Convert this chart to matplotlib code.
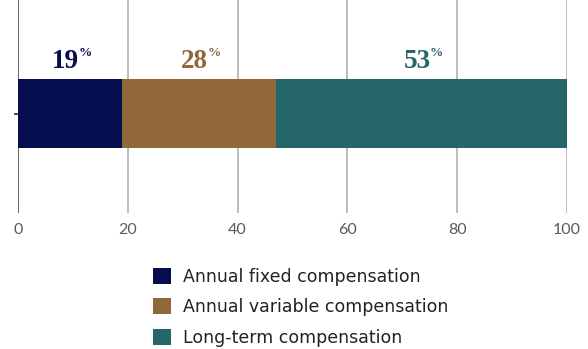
import matplotlib.pyplot as plt
from matplotlib.patches import Patch

categories = ["Annual fixed compensation", "Annual variable compensation", "Long-term compensation"]
shares = [19, 28, 53]
colors = ["#050d4e", "#91683c", "#25666b"]
xticks = [0, 20, 40, 60, 80, 100]

fig = plt.figure(figsize=(5.88, 3.49), dpi=100)
ax = fig.add_axes([18 / 588, 1 - 213 / 349, 549 / 588, 213 / 349])

left = 0
for cat, val, col in zip(categories, shares, colors):
    ax.barh(0, val, left=left, height=1.0, color=col, zorder=3)
    mid = left + val / 2
    # number and a small raised percent sign, centred as a group
    ax.annotate(str(val), (mid, 0.75), xytext=(6.5, 0), textcoords="offset points",
                ha="right", va="center", color=col, fontsize=19.5, fontweight="bold",
                family="Liberation Serif")
    ax.annotate("%", (mid, 0.75), xytext=(6, 10.5), textcoords="offset points",
                ha="left", va="top", color=col, fontsize=9.5, fontweight="bold",
                family="Liberation Serif")
    left += val

ax.set_xlim(0, 100)
ax.set_ylim(-99.5 / 69, 113.5 / 69)
ax.set_xticks(xticks)
ax.set_xticklabels([str(t) for t in xticks], fontsize=11.5, color="#5a5a5a", family="Lato")
ax.set_yticks([0])
ax.set_yticklabels([""])
ax.tick_params(axis="x", length=0, pad=7)
ax.tick_params(axis="y", length=3, width=1.2, color="#333333")
for t in xticks:
    ax.axvline(t, color="#555555" if t == 0 else "#b3b7bb", lw=1.3, zorder=1)
for s in ax.spines.values():
    s.set_visible(False)

handles = [Patch(facecolor=c, edgecolor="none") for c in colors]
leg = fig.legend(handles, categories, loc="upper left", bbox_to_anchor=(137 / 588, 1 - 252 / 349),
                 frameon=False, fontsize=12.5, handlelength=1.05, handleheight=1.05,
                 handletextpad=0.7, labelspacing=0.72)
for txt in leg.get_texts():
    txt.set_color("#222222")

fig.savefig("out.png", dpi=100)
